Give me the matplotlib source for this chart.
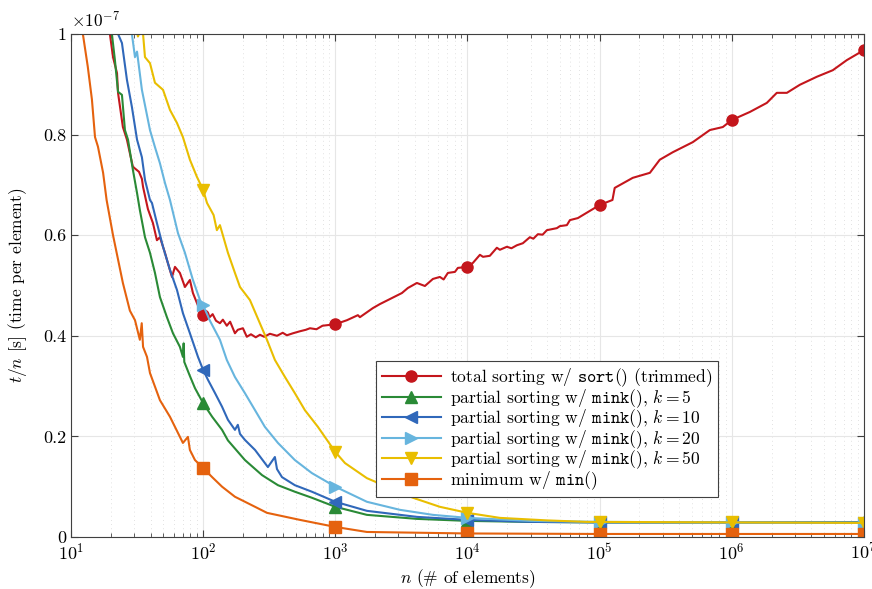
import numpy as np
import matplotlib
matplotlib.use("Agg")
import matplotlib.pyplot as plt
from matplotlib.ticker import FuncFormatter, LogLocator, NullFormatter

plt.rcParams['font.family'] = 'serif'
plt.rcParams['font.serif'] = ['cmr10', 'DejaVu Serif']
plt.rcParams['mathtext.fontset'] = 'cm'
plt.rcParams['axes.formatter.use_mathtext'] = True
plt.rcParams['axes.unicode_minus'] = False
plt.rcParams['font.size'] = 12

# ---------------- data (t/n in units of 1e-7 s) ----------------
sort_n = [18.5, 19.7, 20.8, 22.3, 22.7, 24.7, 26.5, 27.9, 29.4, 32.7, 34.4, 35.1, 38.2, 41.7,
          44.7, 47.1, 49.7, 51.4, 53.2, 58.1, 61.2, 66.7, 72.8, 79.4, 83.7, 91.4, 100, 105, 112,
          118, 125, 134, 141, 151, 160, 174, 183, 200, 214, 230, 250, 269, 290, 320, 362, 400,
          430, 478, 540, 600, 643, 720, 800, 1000, 1225, 1482, 1535, 1923, 2173, 2588, 3190,
          3540, 4142, 4763, 5474, 6179, 6600, 7108, 8035, 8460, 10000, 11000, 12420, 13100,
          14760, 16680, 17590, 19870, 21500, 23650, 26240, 29650, 31500, 34110, 37000, 39900,
          47460, 50000, 56500, 59600, 68400, 81500, 100000, 119500, 125000, 130000, 178000,
          240000, 285000, 358000, 507000, 682000, 855000, 1e6, 1.37e6, 1.84e6, 2.19e6, 2.61e6,
          3.27e6, 4.40e6, 5.81e6, 7.41e6, 1e7]
sort_t = [1.03, 1.0, 0.954, 0.922, 0.883, 0.815, 0.79, 0.763, 0.736, 0.726, 0.712, 0.696, 0.652,
          0.624, 0.59, 0.596, 0.577, 0.565, 0.551, 0.517, 0.537, 0.525, 0.497, 0.511, 0.485,
          0.46, 0.441, 0.446, 0.437, 0.443, 0.43, 0.425, 0.432, 0.42, 0.428, 0.405, 0.412, 0.415,
          0.398, 0.403, 0.397, 0.402, 0.398, 0.404, 0.400, 0.406, 0.401, 0.405, 0.409, 0.412,
          0.415, 0.413, 0.42, 0.423, 0.431, 0.441, 0.437, 0.455, 0.463, 0.473, 0.485, 0.495,
          0.505, 0.499, 0.513, 0.517, 0.512, 0.525, 0.527, 0.535, 0.537, 0.545, 0.561, 0.557,
          0.559, 0.575, 0.571, 0.577, 0.574, 0.58, 0.584, 0.596, 0.593, 0.602, 0.601, 0.61,
          0.614, 0.618, 0.62, 0.63, 0.634, 0.646, 0.66, 0.668, 0.67, 0.694, 0.714, 0.724, 0.75,
          0.765, 0.785, 0.809, 0.815, 0.829, 0.845, 0.863, 0.883, 0.883, 0.899, 0.915, 0.928,
          0.948, 0.968]

k5_n = [19.5, 20.4, 21.5, 22.7, 24.3, 25.6, 27.0, 29.4, 31.6, 33.2, 36.3, 39.6, 43.2, 47.1, 53.2,
        59.1, 66.7, 70.3, 71.2, 72.0, 79.4, 86.7, 100, 117, 139, 154, 207, 279, 368, 494, 665,
        1000, 1733, 4142, 10000, 30000, 100000, 1e6, 1e7]
k5_t = [1.03, 1.0, 0.948, 0.885, 0.879, 0.809, 0.79, 0.73, 0.684, 0.65, 0.596, 0.565, 0.525,
        0.477, 0.437, 0.405, 0.378, 0.358, 0.385, 0.348, 0.32, 0.296, 0.266, 0.239, 0.213, 0.192,
        0.153, 0.123, 0.103, 0.09, 0.078, 0.06, 0.044, 0.036, 0.032, 0.03, 0.029, 0.029, 0.029]

k10_n = [21.0, 22.7, 24.3, 26.5, 28.9, 31.6, 34.4, 36.3, 39.6, 41.0, 44.7, 49.7, 56.1, 63.4, 70.3,
         79.4, 91.4, 100, 109, 123, 139, 154, 174, 183, 190, 207, 247, 309, 349, 362, 395, 494,
         665, 1000, 1733, 4142, 10000, 30000, 100000, 1e6, 1e7]
k10_t = [1.03, 1.0, 0.982, 0.909, 0.855, 0.79, 0.755, 0.71, 0.67, 0.664, 0.624, 0.577, 0.531,
         0.491, 0.445, 0.405, 0.358, 0.332, 0.312, 0.286, 0.259, 0.233, 0.213, 0.223, 0.205,
         0.193, 0.173, 0.139, 0.159, 0.135, 0.119, 0.103, 0.09, 0.07, 0.052, 0.04, 0.034, 0.03,
         0.029, 0.029, 0.029]

k20_n = [28.0, 28.9, 30.5, 31.6, 34.4, 39.6, 43.2, 47.1, 51.4, 56.1, 64.5, 72.8, 83.7, 94.6, 100,
         112, 134, 151, 174, 207, 247, 293, 368, 494, 665, 1000, 1733, 3081, 5474, 10000, 30000,
         100000, 1e6, 1e7]
k20_t = [1.03, 1.0, 0.954, 0.965, 0.889, 0.809, 0.775, 0.743, 0.704, 0.67, 0.604, 0.565, 0.511,
         0.471, 0.461, 0.431, 0.392, 0.352, 0.318, 0.286, 0.252, 0.219, 0.187, 0.153, 0.127, 0.1,
         0.07, 0.054, 0.044, 0.038, 0.032, 0.03, 0.029, 0.028]

k50_n = [31.0, 32.1, 32.7, 33.8, 35.1, 36.3, 39.6, 43.2, 49.7, 56.1, 63.4, 70.3, 79.4, 89.7, 100,
         107, 120, 127, 134, 154, 174, 190, 226, 304, 349, 416, 494, 589, 738, 1000, 1183, 1733,
         2455, 3866, 6179, 10000, 17590, 40000, 80000, 100000, 1e6, 1e7]
k50_t = [1.02, 0.995, 1.0, 1.03, 1.0, 0.954, 0.942, 0.903, 0.889, 0.849, 0.823, 0.795, 0.75,
         0.716, 0.69, 0.664, 0.64, 0.61, 0.62, 0.565, 0.525, 0.497, 0.471, 0.392, 0.352, 0.318,
         0.286, 0.252, 0.219, 0.169, 0.147, 0.117, 0.1, 0.078, 0.06, 0.048, 0.038, 0.033, 0.03,
         0.03, 0.029, 0.028]

min_n = [11.5, 12.3, 13.4, 14.4, 15.2, 16.0, 17.5, 18.6, 20.8, 24.7, 27.9, 30.5, 33.2, 34.3,
         35.1, 37.6, 39.6, 47.1, 56.1, 70.3, 76.7, 79.4, 86.7, 100, 117, 139, 174, 247, 304,
         540, 1000, 1733, 10000, 100000, 1e6, 1e7]
min_t = [1.06, 1.0, 0.935, 0.87, 0.795, 0.776, 0.724, 0.67, 0.60, 0.505, 0.45, 0.431, 0.392,
         0.425, 0.378, 0.358, 0.326, 0.272, 0.239, 0.187, 0.199, 0.173, 0.153, 0.137, 0.119,
         0.1, 0.08, 0.06, 0.048, 0.034, 0.02, 0.01, 0.007, 0.006, 0.006, 0.006]

series = [
    (sort_n, sort_t, '#C4161C', 'o', r'total sorting w/ $\mathtt{sort()}$ (trimmed)'),
    (k5_n, k5_t, '#2A8A36', '^', r'partial sorting w/ $\mathtt{mink()}$, $k=5$'),
    (k10_n, k10_t, '#3068BA', '<', r'partial sorting w/ $\mathtt{mink()}$, $k=10$'),
    (k20_n, k20_t, '#67B5DE', '>', r'partial sorting w/ $\mathtt{mink()}$, $k=20$'),
    (k50_n, k50_t, '#E9BE00', 'v', r'partial sorting w/ $\mathtt{mink()}$, $k=50$'),
    (min_n, min_t, '#E5620E', 's', r'minimum w/ $\mathtt{min()}$'),
]
decades = [1e1, 1e2, 1e3, 1e4, 1e5, 1e6, 1e7]

fig = plt.figure(figsize=(8.72, 5.89), dpi=100)
ax = fig.add_axes([0.0814, 0.0883, 0.9094, 0.854])

for n, t, c, m, lab in series:
    n = np.asarray(n, float)
    t = np.asarray(t, float)
    idx = [i for i, v in enumerate(n) if any(abs(v - d) / d < 1e-9 for d in decades)]
    ax.plot(n, t, color=c, lw=1.5, marker=m, markevery=idx, markersize=8,
            markeredgecolor=c, markerfacecolor=c, label=lab, clip_on=True)

ax.set_xscale('log')
ax.set_xlim(10, 1e7)
ax.set_ylim(0, 1)
ax.set_yticks([0, 0.2, 0.4, 0.6, 0.8, 1.0])
ax.yaxis.set_major_formatter(FuncFormatter(lambda v, p: f"{v:g}"))
ax.xaxis.set_major_locator(LogLocator(base=10, numticks=20))
ax.xaxis.set_minor_locator(LogLocator(base=10, subs=np.arange(2, 10), numticks=100))
ax.xaxis.set_minor_formatter(NullFormatter())

ax.grid(True, which='major', color='#E6E6E6', lw=0.8, ls='-')
ax.grid(True, which='minor', axis='x', color='#D8D8D8', lw=0.6, ls=(0, (1, 4)))
ax.set_axisbelow(True)
for s in ax.spines.values():
    s.set_color('#404040')
    s.set_linewidth(0.8)
ax.tick_params(which='both', direction='in', top=True, right=True, colors='#404040',
               labelcolor='black', labelsize=13)
ax.tick_params(which='major', length=5)
ax.tick_params(which='minor', length=3)

ax.set_xlabel(r'$n$ (# of elements)', fontsize=12.5, labelpad=3)
ax.set_ylabel(r'$t/n$ [s] (time per element)', fontsize=12.5, labelpad=10)
ax.text(0.0, 1.008, r'$\times10^{-7}$', transform=ax.transAxes, fontsize=12.5,
        ha='left', va='bottom')

leg = ax.legend(loc='lower left', bbox_to_anchor=(0.385, 0.0795), borderaxespad=0,
                fancybox=False, framealpha=1, edgecolor='#404040', fontsize=12.6,
                handlelength=3.4, numpoints=1, labelspacing=-0.12, borderpad=0.3,
                handletextpad=0.5)
leg.get_frame().set_linewidth(0.8)

fig.savefig('out.png', dpi=100)
